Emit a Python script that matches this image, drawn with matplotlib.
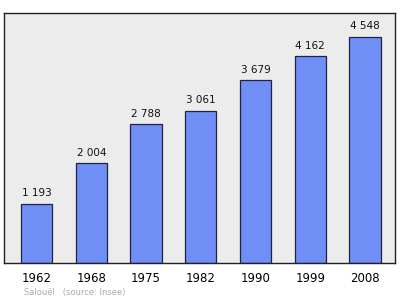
import matplotlib.pyplot as plt

years = ['1962', '1968', '1975', '1982', '1990', '1999', '2008']
population = [1193, 2004, 2788, 3061, 3679, 4162, 4548]
value_labels = ['1 193', '2 004', '2 788', '3 061', '3 679', '4 162', '4 548']

fig = plt.figure(figsize=(4.0, 2.99), dpi=100)
# frame: x 4..395 px, y 13..263 px
ax = fig.add_axes([4 / 400, 1 - 263 / 299, 391 / 400, 250 / 299])
ax.set_facecolor('#ececec')

x = range(len(years))
ax.bar(x, population, width=0.57, color='#6f8ff7', edgecolor='#222244', linewidth=0.9, zorder=2)
for i, (v, lab) in enumerate(zip(population, value_labels)):
    ax.text(i, v + 110, lab, ha='center', va='bottom', fontsize=7.5, color='#111111')

ax.set_xlim(-0.594, 6.548)
ax.set_ylim(0, 5030)
ax.set_xticks(list(x))
ax.set_xticklabels(years, fontsize=8.5)
ax.tick_params(axis='x', length=0, pad=6.5)
ax.set_yticks([])
for s in ax.spines.values():
    s.set_color('#222222')
    s.set_linewidth(1.0)

fig.text(24 / 400, 1 - 292 / 299, 'Salouël   (source: Insee)', fontsize=6, color='#aaaaaa',
         ha='left', va='center')

fig.savefig('out.png', dpi=100)
